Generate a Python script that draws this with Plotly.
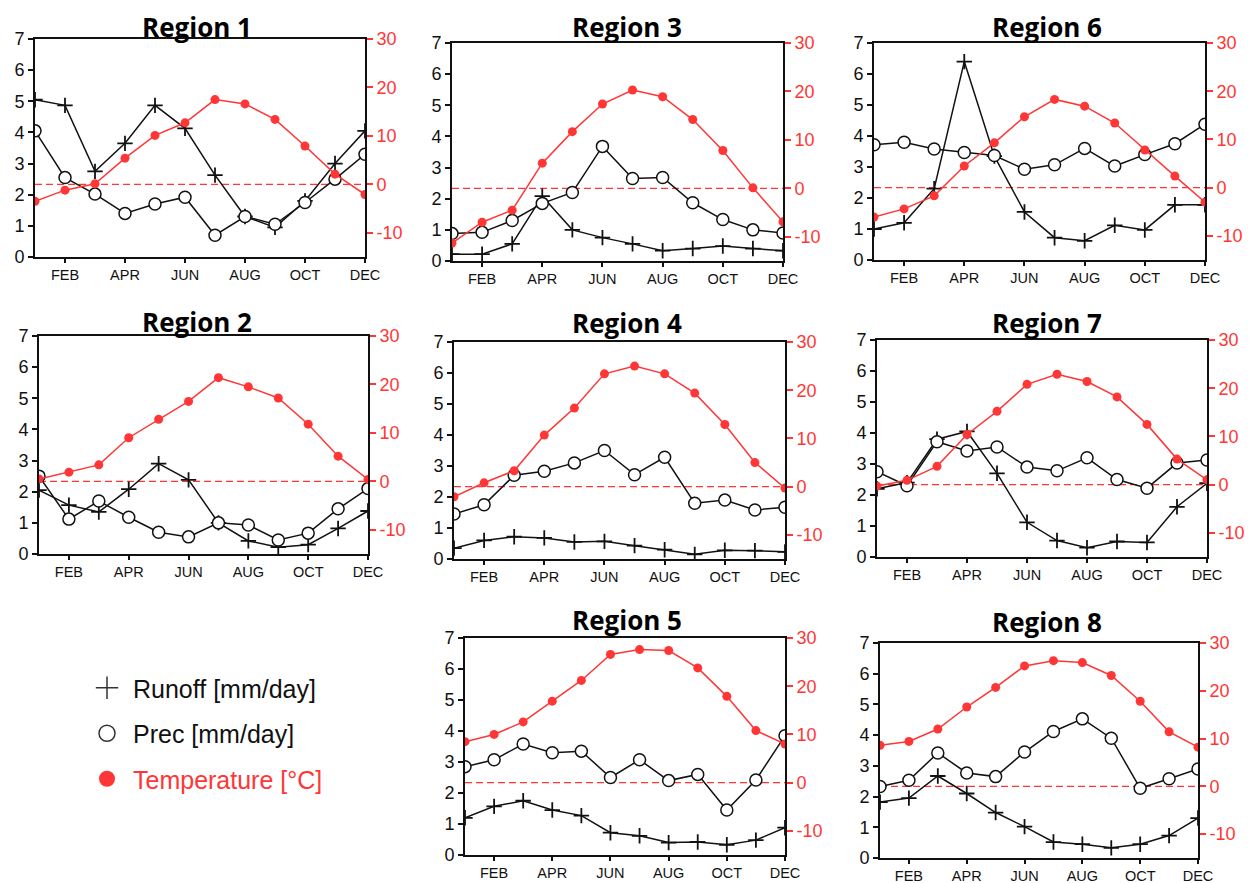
import plotly.graph_objects as go

# ---------------- data ----------------
months = list(range(1, 13))
tick_vals = [2, 4, 6, 8, 10, 12]
tick_text = ["FEB", "APR", "JUN", "AUG", "OCT", "DEC"]
temp_tick_vals = [-10, 0, 10, 20, 30]
temp_tick_text = ["-10", "0", "10", "20", "30"]

region_names = ["Region 1", "Region 3", "Region 6", "Region 2", "Region 4", "Region 7", "Region 5", "Region 8"]

runoff_r1 = [5.05, 4.87, 2.75, 3.65, 4.87, 4.13, 2.63, 1.30, 0.95, 1.80, 3.00, 4.05]
prec_r1 = [4.05, 2.55, 2.02, 1.40, 1.70, 1.92, 0.70, 1.30, 1.05, 1.75, 2.50, 3.30]
temp_r1 = [-3.5, -1.2, 0.1, 5.4, 10.1, 12.7, 17.5, 16.6, 13.4, 7.9, 2.1, -2.1]

runoff_r2 = [2.05, 1.57, 1.35, 2.08, 2.90, 2.38, 1.00, 0.42, 0.22, 0.30, 0.82, 1.38]
prec_r2 = [2.50, 1.12, 1.70, 1.18, 0.70, 0.55, 1.00, 0.93, 0.45, 0.67, 1.45, 2.10]
temp_r2 = [0.5, 1.9, 3.4, 9.0, 12.8, 16.5, 21.4, 19.5, 17.2, 11.8, 5.2, 0.4]

runoff_r3 = [0.22, 0.22, 0.55, 2.08, 1.00, 0.75, 0.55, 0.33, 0.40, 0.48, 0.40, 0.33]
prec_r3 = [0.88, 0.92, 1.30, 1.85, 2.20, 3.68, 2.65, 2.68, 1.87, 1.33, 1.00, 0.90]
temp_r3 = [-11.3, -7.0, -4.5, 5.2, 11.7, 17.4, 20.3, 18.9, 14.2, 7.8, 0.1, -6.9]

runoff_r4 = [0.35, 0.60, 0.72, 0.68, 0.55, 0.57, 0.43, 0.30, 0.15, 0.28, 0.27, 0.23]
prec_r4 = [1.45, 1.75, 2.70, 2.83, 3.10, 3.50, 2.72, 3.28, 1.80, 1.90, 1.58, 1.67]
temp_r4 = [-2.1, 0.8, 3.3, 10.7, 16.3, 23.4, 25.0, 23.4, 19.4, 12.9, 5.0, -0.3]

runoff_r5 = [1.20, 1.57, 1.75, 1.45, 1.27, 0.72, 0.62, 0.40, 0.42, 0.33, 0.48, 0.88]
prec_r5 = [2.85, 3.07, 3.58, 3.30, 3.35, 2.50, 3.07, 2.40, 2.60, 1.45, 2.42, 3.85]
temp_r5 = [8.5, 10.0, 12.6, 16.9, 21.2, 26.6, 27.6, 27.4, 23.8, 17.9, 10.8, 8.0]

runoff_r6 = [1.00, 1.20, 2.30, 6.40, 3.35, 1.55, 0.72, 0.62, 1.12, 0.97, 1.78, 1.78]
prec_r6 = [3.72, 3.80, 3.58, 3.47, 3.37, 2.93, 3.07, 3.60, 3.03, 3.40, 3.75, 4.38]
temp_r6 = [-6.1, -4.4, -1.7, 4.5, 9.3, 14.7, 18.3, 16.9, 13.4, 7.8, 2.4, -3.0]

runoff_r7 = [2.20, 2.40, 3.80, 4.05, 2.70, 1.12, 0.53, 0.30, 0.50, 0.47, 1.62, 2.38]
prec_r7 = [2.75, 2.30, 3.72, 3.42, 3.55, 2.90, 2.78, 3.20, 2.50, 2.22, 3.03, 3.13]
temp_r7 = [-0.3, 0.9, 3.8, 10.4, 15.2, 20.8, 22.9, 21.4, 18.2, 12.5, 5.3, 1.0]

runoff_r8 = [1.82, 1.95, 2.67, 2.10, 1.48, 1.02, 0.52, 0.45, 0.33, 0.45, 0.73, 1.30]
prec_r8 = [2.33, 2.53, 3.42, 2.77, 2.65, 3.45, 4.12, 4.53, 3.90, 2.27, 2.58, 2.90]
temp_r8 = [8.6, 9.4, 12.0, 16.6, 20.7, 25.2, 26.3, 25.9, 23.2, 17.8, 11.4, 8.2]

series = [
    (runoff_r1, prec_r1, temp_r1),
    (runoff_r3, prec_r3, temp_r3),
    (runoff_r6, prec_r6, temp_r6),
    (runoff_r2, prec_r2, temp_r2),
    (runoff_r4, prec_r4, temp_r4),
    (runoff_r7, prec_r7, temp_r7),
    (runoff_r5, prec_r5, temp_r5),
    (runoff_r8, prec_r8, temp_r8),
]

legend_labels = ["Runoff [mm/day]", "Prec [mm/day]", "Temperature [°C]"]

# ---------------- layout (window pixel boxes) ----------------
WIN_W, WIN_H = 1253, 883
OFF = 8                      # default page body margin
W, H = WIN_W - OFF, WIN_H - OFF


def px(xw):
    return (xw - OFF) / W


def py(yw):
    return 1 - (yw - OFF) / H


# (left, right, top, bottom) in window pixels
boxes = [
    (35, 365, 39, 257),
    (452, 783, 43, 261),
    (874, 1205, 43, 260),
    (39, 368, 336, 554),
    (454, 785, 342, 559),
    (877, 1207, 340, 557),
    (465, 785, 638, 855),
    (880, 1198, 643, 858),
]
# (center x, center y or None for "top of page")
title_pos = [(197, None), (627, None), (1047, None), (197, 322), (627, 323), (1047, 323), (627, 620), (1047, 622)]

RED = "#ff3636"
BLACK = "#111111"
TICKFONT = "Liberation Sans, Arial, sans-serif"

fig = go.Figure()
layout = dict(
    template="none",
    width=W, height=H,
    margin=dict(l=0, r=0, t=0, b=0, autoexpand=False),
    paper_bgcolor="white", plot_bgcolor="white",
    showlegend=True,
)
shapes = []
annotations = []

for i, ((runoff, prec, temp), box, name, tp) in enumerate(zip(series, boxes, region_names, title_pos)):
    l, r, t, b = box
    xname = "xaxis" if i == 0 else f"xaxis{i+1}"
    xref = "x" if i == 0 else f"x{i+1}"
    y1n = 2 * i + 1
    y2n = 2 * i + 2
    y1name = "yaxis" if y1n == 1 else f"yaxis{y1n}"
    y1ref = "y" if y1n == 1 else f"y{y1n}"
    y2name = f"yaxis{y2n}"
    y2ref = f"y{y2n}"
    xdom = [px(l), px(r)]
    ydom = [py(b), py(t)]

    layout[xname] = dict(
        domain=xdom, anchor=y1ref, range=[1, 12], automargin=False,
        tickvals=tick_vals, ticktext=tick_text,
        showgrid=False, zeroline=False,
        showline=True, linecolor=BLACK, linewidth=2, mirror=True,
        ticks="outside", ticklen=4, tickwidth=1.5, tickcolor=BLACK,
        tickfont=dict(family=TICKFONT, size=14.5, color=BLACK),
        fixedrange=True,
    )
    layout[y1name] = dict(
        domain=ydom, anchor=xref, range=[0, 7], dtick=1, tick0=0, automargin=False,
        showgrid=False, zeroline=False,
        showline=True, linecolor=BLACK, linewidth=2,
        ticks="outside", ticklen=5, tickwidth=1.5, tickcolor=BLACK,
        tickfont=dict(family=TICKFONT, size=18, color=BLACK),
        fixedrange=True,
    )
    layout[y2name] = dict(
        overlaying=y1ref, anchor=xref, side="right", range=[-15, 30], automargin=False,
        tickvals=temp_tick_vals, ticktext=temp_tick_text,
        showgrid=False, zeroline=False,
        showline=True, linecolor=BLACK, linewidth=2,
        ticks="outside", ticklen=6, tickwidth=1.5, tickcolor=RED,
        tickfont=dict(family=TICKFONT, size=18, color=RED),
        fixedrange=True,
    )

    shapes.append(dict(
        type="line", xref=f"{xref} domain", yref=y2ref,
        x0=0, x1=1, y0=0, y1=0, layer="below",
        line=dict(color=RED, width=1.3, dash="7px,4px"),
    ))
    if tp[1] is None:
        ty, yanchor = 1.0, "top"
    else:
        ty, yanchor = py(tp[1]), "middle"
    annotations.append(dict(
        text=f"<b>{name}</b>", x=px(tp[0]), y=ty,
        xref="paper", yref="paper", xanchor="center", yanchor=yanchor,
        borderpad=0,
        showarrow=False, font=dict(family="Open Sans, sans-serif", size=26, color="black"),
    ))

    fig.add_trace(go.Scatter(
        x=months, y=runoff, xaxis=xref, yaxis=y1ref, mode="lines+markers",
        line=dict(color=BLACK, width=1.5),
        marker=dict(symbol="cross-thin", size=11, line=dict(color=BLACK, width=1.8)),
        showlegend=False, hoverinfo="skip",
    ))
    fig.add_trace(go.Scatter(
        x=months, y=prec, xaxis=xref, yaxis=y1ref, mode="lines+markers",
        line=dict(color=BLACK, width=1.5),
        marker=dict(symbol="circle", size=12, color="white", line=dict(color=BLACK, width=1.5)),
        showlegend=False, hoverinfo="skip",
    ))
    fig.add_trace(go.Scatter(
        x=months, y=temp, xaxis=xref, yaxis=y2ref, mode="lines+markers",
        line=dict(color=RED, width=1.5),
        marker=dict(symbol="circle", size=9, color=RED),
        showlegend=False, hoverinfo="skip",
    ))

# legend-only entries
fig.add_trace(go.Scatter(
    x=[None], y=[None], mode="markers", name=legend_labels[0], legendgroup="a",
    marker=dict(symbol="cross-thin", size=16, line=dict(color="#333333", width=1.5)),
))
fig.add_trace(go.Scatter(
    x=[None], y=[None], mode="markers", name=legend_labels[1], legendgroup="b",
    marker=dict(symbol="circle", size=16, color="white", line=dict(color="#333333", width=1.5)),
))
fig.add_trace(go.Scatter(
    x=[None], y=[None], mode="markers", name=f"<span style='color:{RED}'>{legend_labels[2]}</span>",
    legendgroup="c",
    marker=dict(symbol="circle", size=16, color=RED),
))

layout["legend"] = dict(
    x=px(81), y=py(665), xanchor="left", yanchor="top",
    font=dict(family=TICKFONT, size=25, color="#111111"),
    tracegroupgap=10, traceorder="grouped", itemwidth=42,
    bgcolor="rgba(0,0,0,0)", itemclick=False, itemdoubleclick=False,
)
layout["shapes"] = shapes
layout["annotations"] = annotations
fig.update_layout(**layout)

fig.write_html("out.html")
